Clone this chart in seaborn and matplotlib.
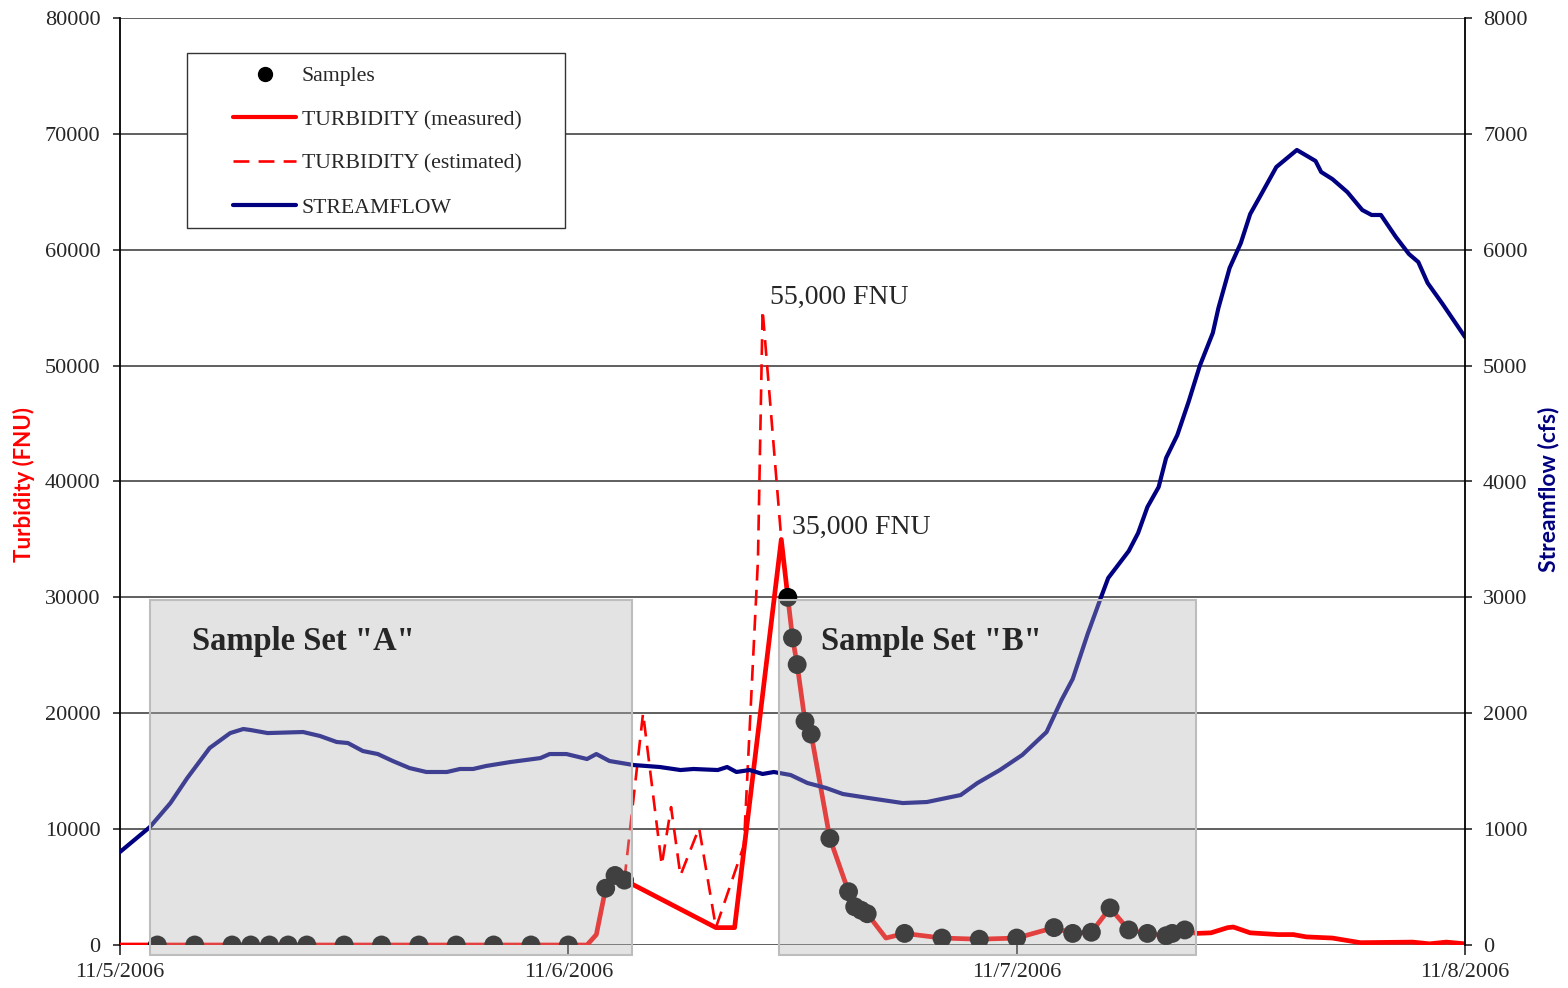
import numpy as np
import pandas as pd
import matplotlib
matplotlib.use('Agg')
import matplotlib.pyplot as plt
from matplotlib.patches import Rectangle
from matplotlib.lines import Line2D
import seaborn as sns

# 时间单位: 自 11/5/2006 00:00 起的小时数
flow_hours = [0.0, 1.6, 2.7, 3.6, 4.8, 5.9, 6.6, 7.0, 7.9, 9.8, 10.7, 11.6, 12.2, 13.0, 13.8,
              14.6, 15.5, 16.4, 17.5, 18.2, 18.9, 19.6, 20.9, 22.5, 23.0, 23.9, 25.0, 25.5,
              26.2, 27.5, 28.9, 30.0, 30.7, 32.0, 32.5, 33.0, 33.7, 34.4, 35.0, 35.9, 36.8,
              37.8, 38.7, 40.1, 41.9, 43.2, 45.0, 45.9, 47.1, 48.3, 49.6, 50.4, 51.0, 51.8,
              52.5, 52.9, 54.0, 54.5, 55.0, 55.6, 56.0, 56.6, 57.2, 57.8, 58.5, 58.8, 59.4,
              60.0, 60.5, 61.1, 61.9, 63.0, 64.0, 64.3, 64.9, 65.7, 66.5, 67.0, 67.5, 68.3,
              69.0, 69.5, 70.0, 70.8, 72.0]
flow_cfs = [803, 1018, 1225, 1441, 1700, 1829, 1864, 1855, 1829, 1838, 1804, 1752, 1743, 1674, 1648,
            1588, 1527, 1493, 1493, 1519, 1519, 1545, 1579, 1613, 1648, 1648, 1605, 1648,
            1588, 1553, 1536, 1510, 1519, 1510, 1536, 1493, 1510, 1476, 1493, 1467, 1398,
            1355, 1303, 1268, 1225, 1234, 1294, 1398, 1510, 1640, 1838, 2114, 2296, 2684,
            2994, 3167, 3400, 3555, 3780, 3952, 4203, 4401, 4686, 4997, 5282, 5497, 5843,
            6058, 6308, 6481, 6714, 6861, 6766, 6671, 6610, 6498, 6343, 6300, 6300, 6110,
            5963, 5894, 5713, 5532, 5247]

turb_hours = [0.0, 25.0, 25.5, 26.0, 26.5, 27.0, 31.9, 32.9, 35.4, 35.75, 36.0, 36.25, 36.67,
              37.0, 38.0, 39.0, 39.33, 39.67, 40.0, 41.0, 42.0, 44.0, 46.0, 48.0, 50.0, 51.0,
              52.0, 53.0, 54.0, 55.0, 56.0, 56.33, 57.0, 57.6, 58.4, 59.3, 59.6, 60.5, 62.0,
              62.8, 63.5, 64.9, 66.4, 69.2, 70.1, 71.0, 72.0]
turb_fnu = [0, 0, 900, 4900, 6000, 5600, 1500, 1500, 35000, 30000, 26500, 24200, 19300,
            18200, 9200, 4600, 3300, 3000, 2700, 600, 1000, 600, 500, 600, 1500, 1000,
            1100, 3200, 1300, 1000, 800, 1000, 1300, 1000, 1050, 1500, 1550, 1050, 900,
            900, 700, 600, 200, 250, 100, 250, 100]

est_hours = [27.0, 28.0, 29.0, 29.5, 30.0, 31.0, 31.9, 33.4, 34.15, 34.4, 35.4]
est_fnu = [5600, 20000, 6900, 11900, 6000, 10100, 1500, 8600, 33200, 54800, 35000]

sample_hours = [2, 4, 6, 7, 8, 9, 10, 12, 14, 16, 18, 20, 22, 24, 26, 26.5, 27,
                35.75, 36, 36.25, 36.67, 37, 38, 39, 39.33, 39.67, 40, 42, 44, 46, 48,
                50, 51, 52, 53, 54, 55, 56, 56.33, 57]
sample_fnu = [0] * 14 + [4900, 6000, 5600,
              30000, 26500, 24200, 19300, 18200, 9200, 4600, 3300, 3000, 2700, 1000, 600, 500, 600,
              1500, 1000, 1100, 3200, 1300, 1000, 800, 1000, 1300]

day_ticks = [0, 24, 48, 72]
day_labels = ['11/5/2006', '11/6/2006', '11/7/2006', '11/8/2006']

set_names = ['Sample Set "A"', 'Sample Set "B"']
set_start = [1.6, 35.3]
set_end = [27.4, 57.6]

peak_labels = ['55,000 FNU', '35,000 FNU']
peak_values = [54800, 35000]

flow_df = pd.DataFrame({'hours': flow_hours, 'cfs': flow_cfs})
turb_df = pd.DataFrame({'hours': turb_hours, 'fnu': turb_fnu})
est_df = pd.DataFrame({'hours': est_hours, 'fnu': est_fnu})
samp_df = pd.DataFrame({'hours': sample_hours, 'fnu': sample_fnu})

sns.set_style('white')
plt.rcParams['font.family'] = ['Liberation Serif', 'DejaVu Serif']

RED = '#ff0000'
NAVY = '#000080'
DASH = (0, (6, 3.5))

fig = plt.figure(figsize=(15.68, 9.88), dpi=100)
ax = fig.add_axes([120 / 1568, 43 / 988, 1345 / 1568, 927 / 988])
ax2 = ax.twinx()

# 网格线
for v in range(0, 80001, 10000):
    ax.axhline(v, color='#5f5f5f', lw=1.4, zorder=0)

# 浊度 (估计, 虚线) 与 (实测, 实线)
sns.lineplot(data=est_df, x='hours', y='fnu', ax=ax, color=RED, lw=1.9,
             linestyle=DASH, sort=False, estimator=None, zorder=3)
sns.lineplot(data=turb_df, x='hours', y='fnu', ax=ax, color=RED, lw=3.4,
             sort=False, estimator=None, zorder=4)
sns.scatterplot(data=samp_df, x='hours', y='fnu', ax=ax, color='black', s=185,
                edgecolor='none', zorder=5)

# 流量
sns.lineplot(data=flow_df, x='hours', y='cfs', ax=ax2, color=NAVY, lw=3.0,
             sort=False, estimator=None, zorder=2)

ax.set_xlim(0, 72)
ax.set_ylim(0, 80000)
ax2.set_ylim(0, 8000)
ax.set_yticks(range(0, 80001, 10000))
ax2.set_yticks(range(0, 8001, 1000))
ax.set_xticks(day_ticks)
ax.set_xticklabels(day_labels)

for a in (ax, ax2):
    a.set_xlabel('')
    for s in ('top', 'bottom'):
        a.spines[s].set_visible(False)
    a.spines['left'].set_color('black')
    a.spines['right'].set_color('black')
    a.spines['left'].set_linewidth(1.3)
    a.spines['right'].set_linewidth(1.3)
ax.spines['right'].set_visible(False)
ax2.spines['left'].set_visible(False)

ax.tick_params(axis='y', labelsize=16, length=5, width=1.2, pad=9, direction='out', left=True)
ax2.tick_params(axis='y', labelsize=16, length=5, width=1.2, pad=8, direction='out', right=True)
ax.tick_params(axis='x', labelsize=16, length=7, width=1.2, pad=6, direction='out', bottom=True)

ax.set_ylabel('Turbidity (FNU)', color=RED, fontsize=16, fontweight='bold', family='Lato')
ax2.set_ylabel('Streamflow (cfs)', color=NAVY, fontsize=16.5, fontweight='bold', family='Lato',
               rotation=90)
ax.yaxis.set_label_coords(-0.0632, 0.497)
ax2.yaxis.set_label_coords(1.0543, 0.492)

# 样本集灰色半透明框 (覆盖在曲线之上)
for name, x0, x1 in zip(set_names, set_start, set_end):
    rect = Rectangle((x0, -900), x1 - x0, 29800 + 900, transform=ax.transData,
                     facecolor=(0.70, 0.70, 0.70, 0.36), edgecolor='#bdbdbd', lw=1.5,
                     clip_on=False, zorder=10)
    ax2.add_patch(rect)
    ax2.text(x0 + 2.25, 26230, name, transform=ax.transData, fontsize=23.5,
             fontweight='bold', ha='left', va='center', zorder=11)

# 峰值标注
ax2.text(34.8, 55900, peak_labels[0], transform=ax.transData, fontsize=20,
         ha='left', va='center', zorder=11)
ax2.text(36.0, 36000, peak_labels[1], transform=ax.transData, fontsize=20,
         ha='left', va='center', zorder=11)

# 图例: 外框单独画, 以匹配原图较宽的留白
ax2.add_patch(Rectangle((67 / 1345, (945 - 228) / 927), 378 / 1345, 175 / 927,
                        transform=ax2.transAxes, facecolor='white', edgecolor='#333333',
                        lw=1.0, zorder=15))
handles = [
    Line2D([], [], color='black', marker='o', linestyle='none', markersize=10),
    Line2D([], [], color=RED, lw=3),
    Line2D([], [], color=RED, lw=1.9, linestyle=DASH),
    Line2D([], [], color=NAVY, lw=3),
]
labels = ['Samples', 'TURBIDITY (measured)', 'TURBIDITY (estimated)', 'STREAMFLOW']
leg = ax2.legend(handles, labels, loc='upper left', bbox_to_anchor=(113 / 1345, (945 - 66) / 927),
                 fontsize=15.7, frameon=False, handlelength=2.9,
                 handletextpad=0.25, labelspacing=1.08, borderpad=0,
                 borderaxespad=0)
leg.set_zorder(20)

fig.savefig('out.png', dpi=100)
